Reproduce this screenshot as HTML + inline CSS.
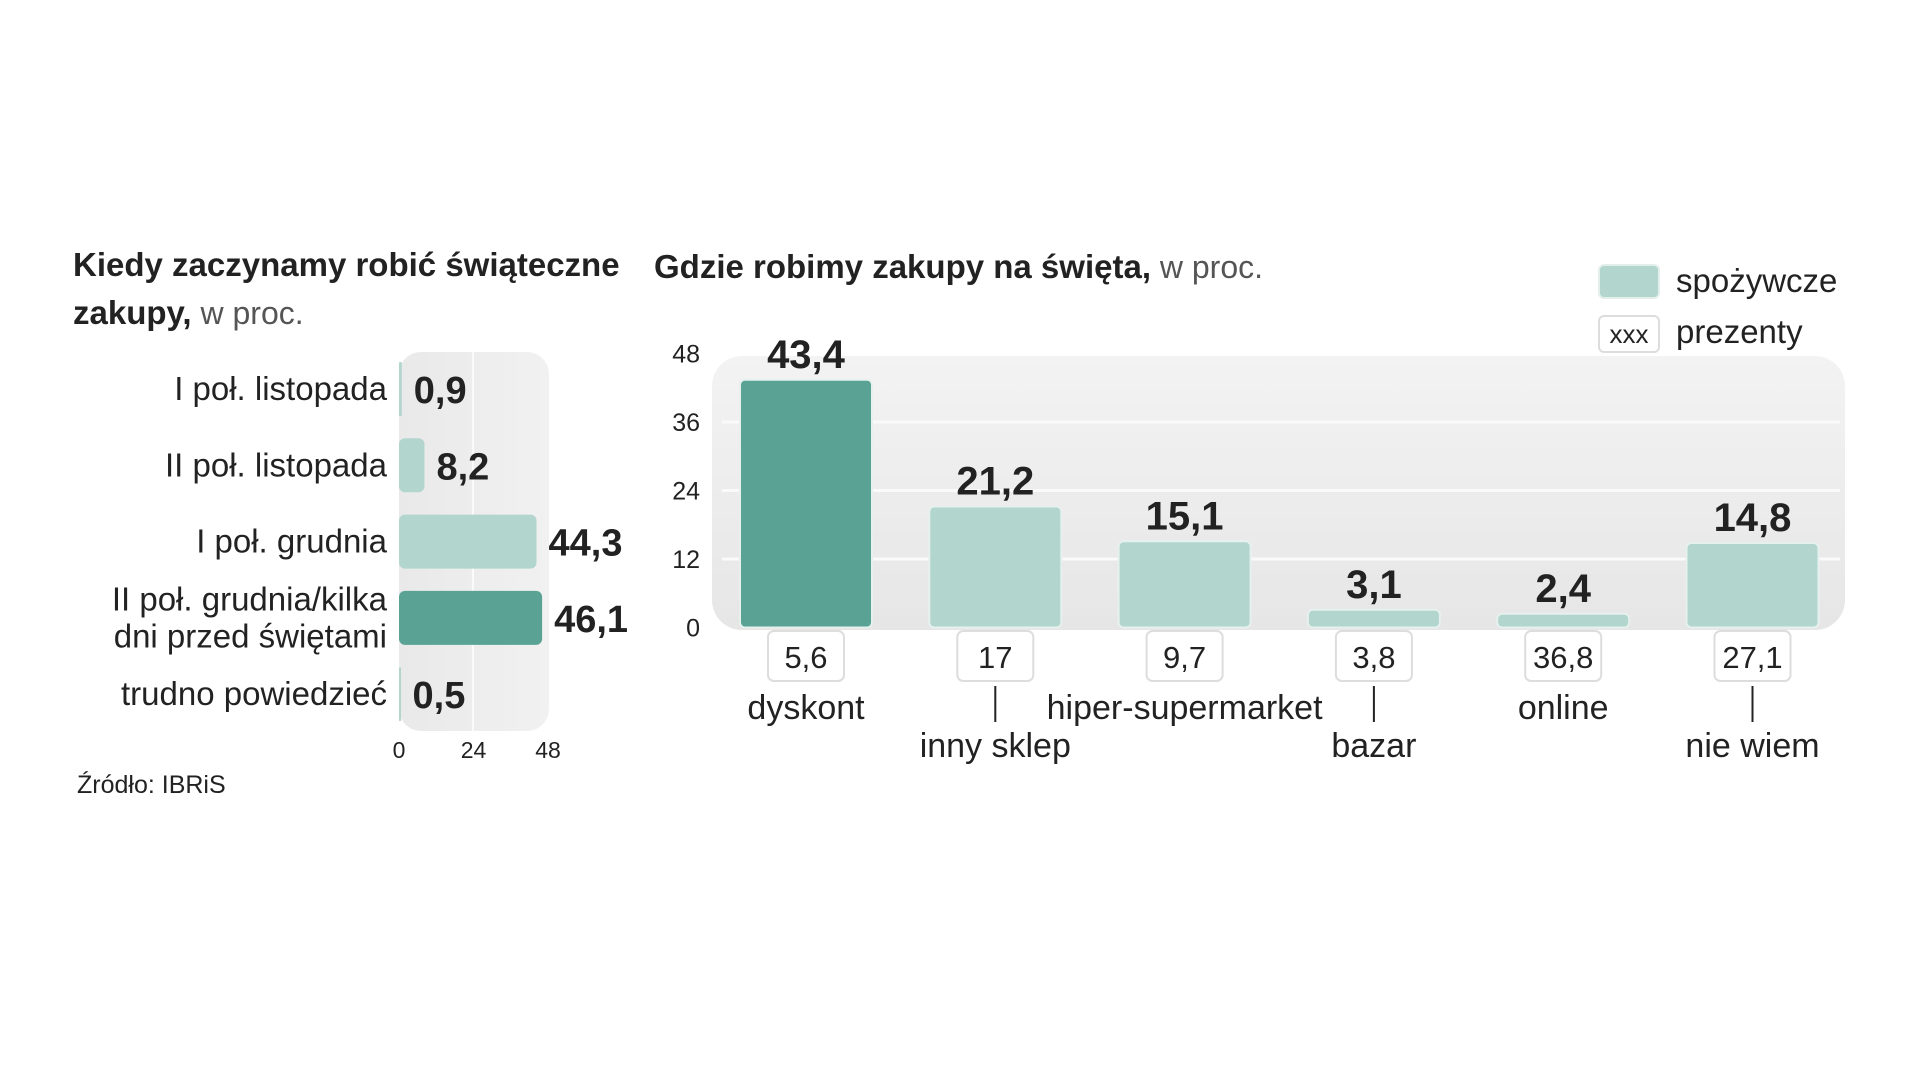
<!DOCTYPE html>
<html><head><meta charset="utf-8"><style>
html,body{margin:0;padding:0;background:#fff;}
svg{display:block;}
text{font-family:"Liberation Sans Narrow","Liberation Sans",sans-serif;fill:#222;}
</style></head><body>
<svg id="svg" width="1918" height="1080" viewBox="0 0 1918 1080">
<defs>
<linearGradient id="pg" x1="0" y1="0" x2="0" y2="1"><stop offset="0" stop-color="#f3f3f3"/><stop offset="1" stop-color="#e6e6e6"/></linearGradient>
<linearGradient id="pg2" x1="0" y1="0" x2="1" y2="0"><stop offset="0" stop-color="#e9e9e9"/><stop offset="1" stop-color="#f1f1f1"/></linearGradient>
</defs>
<g>
<text x="73" y="276" font-size="33" font-weight="bold">Kiedy zaczynamy robić świąteczne</text>
<text x="73" y="324" font-size="33"><tspan font-weight="bold">zakupy,</tspan><tspan fill="#555" font-size="32"> w proc.</tspan></text>
</g>
<rect x="399" y="352" width="150" height="379" rx="22" fill="url(#pg2)"/>
<line x1="473" y1="352" x2="473" y2="731" stroke="#fafafa" stroke-width="2"/>
<g id="left"></g>
<text x="77" y="793" font-size="25" fill="#444">Źródło: IBRiS</text>
<g>
<text x="654" y="278" font-size="33"><tspan font-weight="bold">Gdzie robimy zakupy  na święta,</tspan><tspan fill="#555" font-size="32"> w proc.</tspan></text>
</g>
<g>
<rect x="1599" y="265" width="60" height="33" rx="5" fill="#b2d5cd" stroke="#e4efec" stroke-width="2"/>
<text x="1676" y="292" font-size="33" fill="#444">spożywcze</text>
<rect x="1599" y="316" width="60" height="36" rx="5" fill="#fff" stroke="#ddd" stroke-width="2"/>
<text x="1629" y="343" font-size="26" text-anchor="middle">xxx</text>
<text x="1676" y="343" font-size="33" fill="#444">prezenty</text>
</g>
<rect x="712" y="356" width="1133" height="274" rx="30" fill="url(#pg)"/>
<g id="right"></g>
</svg>
<script>
const leftCats=["I poł. listopada","II poł. listopada","I poł. grudnia","II poł. grudnia/kilka|dni przed świętami","trudno powiedzieć"];
const leftVals=[0.9,8.2,44.3,46.1,0.5];
const leftLabels=["0,9","8,2","44,3","46,1","0,5"];
const leftTicks=[0,24,48];
const rightCats=["dyskont","inny sklep","hiper-supermarket","bazar","online","nie wiem"];
const foodVals=[43.4,21.2,15.1,3.1,2.4,14.8];
const foodLabels=["43,4","21,2","15,1","3,1","2,4","14,8"];
const giftLabels=["5,6","17","9,7","3,8","36,8","27,1"];
const rightTicks=[0,12,24,36,48];
const NS="http://www.w3.org/2000/svg";
function mk(t,a,p,txt){const e=document.createElementNS(NS,t);for(const k in a)e.setAttribute(k,a[k]);if(txt!==undefined)e.textContent=txt;p.appendChild(e);return e;}
// left chart
const L=document.getElementById('left');
const lx=v=>399+v*(149/48);
const ly=i=>389+i*76.3;
leftTicks.forEach(t=>{const e=mk('text',{x:lx(t),y:758,'font-size':23,'text-anchor':'middle',fill:'#444'},L,String(t));

});
leftCats.forEach((c,i)=>{
 const y=ly(i);const v=leftVals[i];
 const b=mk('rect',{x:399,y:y-27,width:Math.max(2,lx(v)-399),height:54,rx:v>3?6:1,fill:i===3?'#5aa394':'#b2d5cd'},L);
 
 
 const parts=c.split('|');
 parts.forEach((p,j)=>{const t=mk('text',{x:387,y:y+11+(j-(parts.length-1)/2)*37,'font-size':33,'text-anchor':'end'},L,p);
 
 });
 const vl=mk('text',{x:Math.max(lx(v),399)+12,y:y+14,'font-size':38,'font-weight':'bold'},L,leftLabels[i]);
 
 
});
// right chart
const R=document.getElementById('right');
const ry=v=>627.5-v*(274/48);
const rx=i=>806+i*189.3;
rightTicks.forEach(t=>{
 if(t>0&&t<48){const g=mk('line',{x1:722,x2:1840,y1:ry(t),y2:ry(t),stroke:'#fafafa','stroke-width':3},R);
 
 }
 const e=mk('text',{x:700,y:ry(t)+9,'font-size':25,'text-anchor':'end',fill:'#444'},R,String(t));
 
 
});
rightCats.forEach((c,i)=>{
 const cx=rx(i),v=foodVals[i];
 const b=mk('rect',{x:cx-66,y:ry(v),width:132,height:627.5-ry(v),rx:5,fill:i===0?'#5aa394':'#b2d5cd',stroke:'#e6f1ee','stroke-width':2},R);
 
 
 const vl=mk('text',{x:cx,y:ry(v)-12,'font-size':40,'font-weight':'bold','text-anchor':'middle'},R,foodLabels[i]);
 
 
 const bx=mk('rect',{x:cx-38,y:631,width:76,height:50,rx:6,fill:'#fff',stroke:'#ddd','stroke-width':2},R);
 
 
 const gt=mk('text',{x:cx,y:668,'font-size':31,'text-anchor':'middle'},R,giftLabels[i]);
 
 
 const row2=i%2===1||i===3;
 const low=(i===1||i===3||i===5);
 if(low){const ln=mk('line',{x1:cx,x2:cx,y1:686,y2:722,stroke:'#222','stroke-width':2},R);
 
 }
 const ct=mk('text',{x:cx,y:low?757:719,'font-size':34,'text-anchor':'middle'},R,c);
 
 
});
</script>
</body></html>
